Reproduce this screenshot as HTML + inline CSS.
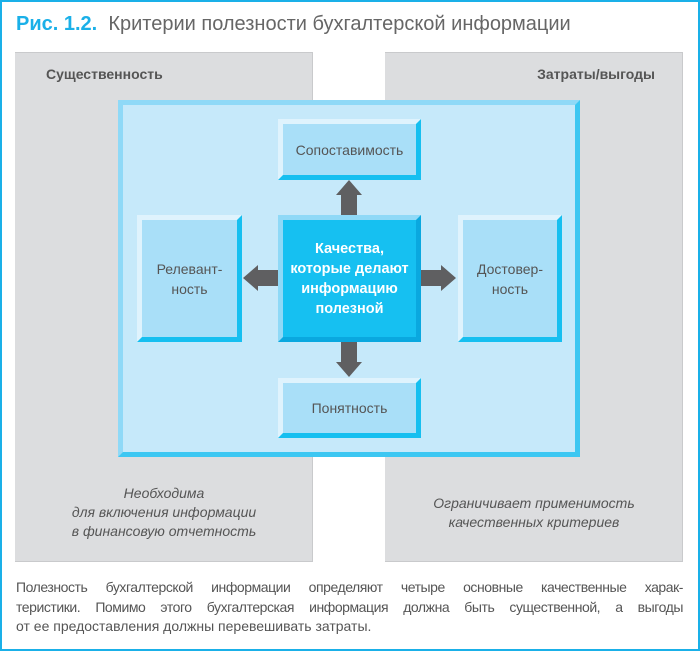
<!DOCTYPE html>
<html><head><meta charset="utf-8"><style>
*{margin:0;padding:0;box-sizing:border-box}
body{width:700px;height:651px;background:#fff;position:relative;overflow:hidden;font-family:"Liberation Sans","DejaVu Sans",sans-serif}
.frame{position:absolute;left:0;top:0;width:700px;height:651px;border:2px solid #1ab0e8}
.abs{position:absolute}
.gray{background:#dcdddf;border-top:1px solid #c9cacc;border-right:1px solid #c9cacc;border-bottom:1px solid #c9cacc}
.big{left:118px;top:100px;width:462px;height:357px;background:#c6e9fa;border-top:5px solid #8fd9f7;border-left:5px solid #8fd9f7;border-right:5px solid #3cc7f2;border-bottom:5px solid #3cc7f2}
.b{background:#a9dff8;border-top:5px solid #dff3fd;border-left:5px solid #dff3fd;border-right:5px solid #16bff0;border-bottom:5px solid #16bff0;display:flex;align-items:center;justify-content:center;text-align:center;color:#555;font-size:14px;line-height:20px}
.c{background:#16c0f1;border-top:5px solid #8fd9f7;border-left:5px solid #8fd9f7;border-right:5px solid #0aa8df;border-bottom:5px solid #0aa8df;color:#fff;font-weight:bold;font-size:14.5px;line-height:20px;display:flex;align-items:center;justify-content:center;text-align:center}
.it{font-style:italic;color:#555;font-size:14px;line-height:19px;text-align:center}
.ln{display:block;text-align:justify;text-align-last:justify;white-space:nowrap;height:19.5px}
</style></head><body>
<div class="frame"></div>
<div class="abs" style="left:16px;top:13px;font-size:20px;color:#666;white-space:nowrap"><b style="color:#1ab0e8">Рис. 1.2.</b>&nbsp; Критерии полезности бухгалтерской информации</div>
<div class="abs gray" style="left:15px;top:52px;width:298px;height:510px"></div>
<div class="abs gray" style="left:385px;top:52px;width:298px;height:510px"></div>
<div class="abs" style="left:46px;top:66px;font-weight:bold;font-size:14px;color:#555">Существенность</div>
<div class="abs" style="left:500px;top:66px;width:155px;text-align:right;font-weight:bold;font-size:14px;color:#555">Затраты/выгоды</div>
<div class="abs big"></div>
<div class="abs b" style="left:278px;top:119px;width:143px;height:61px">Сопоставимость</div>
<div class="abs b" style="left:137px;top:215px;width:105px;height:127px">Релевант-<br>ность</div>
<div class="abs b" style="left:458px;top:215px;width:104px;height:127px">Достовер-<br>ность</div>
<div class="abs b" style="left:278px;top:378px;width:143px;height:60px">Понятность</div>
<div class="abs c" style="left:278px;top:215px;width:143px;height:127px">Качества,<br>которые делают<br>информацию<br>полезной</div>
<svg class="abs" style="left:0;top:0" width="700" height="651">
<g fill="#5f5f61">
<polygon points="341,215 341,195 336,195 349,180 362,195 357,195 357,215"/>
<polygon points="341,342 341,362 336,362 349,377 362,362 357,362 357,342"/>
<polygon points="278,270 258,270 258,265 243,278 258,291 258,286 278,286"/>
<polygon points="421,270 441,270 441,265 456,278 441,291 441,286 421,286"/>
</g></svg>
<div class="abs it" style="left:15px;top:484px;width:298px">Необходима<br>для включения информации<br>в финансовую отчетность</div>
<div class="abs it" style="left:385px;top:494px;width:298px">Ограничивает применимость<br>качественных критериев</div>
<div class="abs" style="left:16px;top:578px;width:667px;font-size:14px;line-height:19.5px;color:#555">
<span class="ln" style="letter-spacing:-0.45px">Полезность бухгалтерской информации определяют четыре основные качественные харак-</span>
<span class="ln" style="letter-spacing:-0.45px">теристики. Помимо этого бухгалтерская информация должна быть существенной, а выгоды</span>
<span style="display:block">от ее предоставления должны перевешивать затраты.</span>
</div>
</body></html>
